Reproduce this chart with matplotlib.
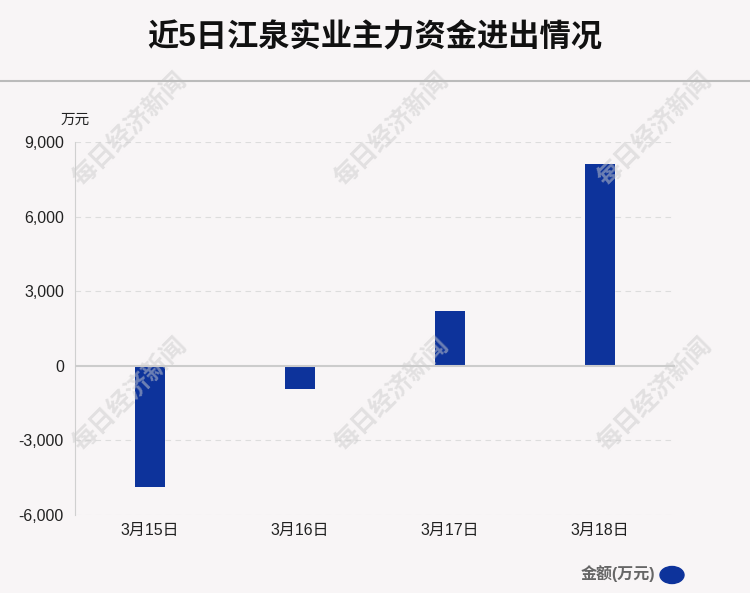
import matplotlib.pyplot as plt
from matplotlib.patches import Ellipse

plt.rcParams['font.family'] = ['Liberation Sans', 'Noto Sans CJK SC', 'DejaVu Sans']

dates = ['3月15日', '3月16日', '3月17日', '3月18日']
amounts = [-4870, -920, 2210, 8120]
yticks = [-6000, -3000, 0, 3000, 6000, 9000]

bg = '#f8f5f6'
bar_color = '#0d339b'

fig = plt.figure(figsize=(7.5, 5.93), dpi=100, facecolor=bg)
ax = fig.add_axes([75 / 750, 1 - 515 / 593, 600 / 750, (515 - 142) / 593])
ax.set_facecolor(bg)

ax.bar(range(len(dates)), amounts, width=0.2, color=bar_color, zorder=3)

ax.set_xlim(-0.5, 3.5)
ax.set_ylim(-6000, 9000)
ax.set_yticks(yticks)
ax.set_yticklabels([f'{v:,}' for v in yticks], fontsize=11.5, color='#222222')
ax.set_xticks(range(len(dates)))
ax.set_xticklabels(dates, fontsize=11.5, color='#222222')
ax.tick_params(length=0, pad=8)
ax.tick_params(axis='x', pad=6)

for v in yticks:
    if v != 0:
        ax.axhline(v, color='#dddddd', lw=0.8, ls=(0, (5, 4)), zorder=1)
ax.axhline(0, color='#cccccc', lw=1.5, zorder=4)

for s in ['top', 'right', 'bottom']:
    ax.spines[s].set_visible(False)
ax.spines['left'].set_color('#d0d0d0')

# title and separator
fig.text(0.5, 1 - 38 / 593, '近5日江泉实业主力资金进出情况', ha='center', va='center',
         fontsize=22.5, fontweight='bold', color='#111111')
fig.add_artist(plt.Line2D([0, 1], [1 - 81 / 593] * 2, color='#bbbbbb', lw=1.5))

fig.text(75 / 750, 1 - 120 / 593, '万元', ha='center', va='center', fontsize=10.5, color='#222222')

# legend
fig.text(655 / 750, 1 - 574 / 593, '金额(万元)', ha='right', va='center',
         fontsize=11.5, fontweight='bold', color='#666666')
fig.add_artist(Ellipse((672 / 750, 1 - 575 / 593), 24 / 750, 17 / 593,
                       color=bar_color, transform=fig.transFigure))

# watermarks
for x, y in [(130, 130), (392, 130), (655, 130), (130, 395), (392, 395), (655, 395)]:
    fig.text(x / 750, 1 - y / 593, '每日经济新闻', rotation=45, ha='center', va='center',
             fontsize=18, fontweight='bold', color='#cccccc', alpha=0.5, zorder=0)

fig.savefig('out.png', dpi=100, facecolor=bg)
